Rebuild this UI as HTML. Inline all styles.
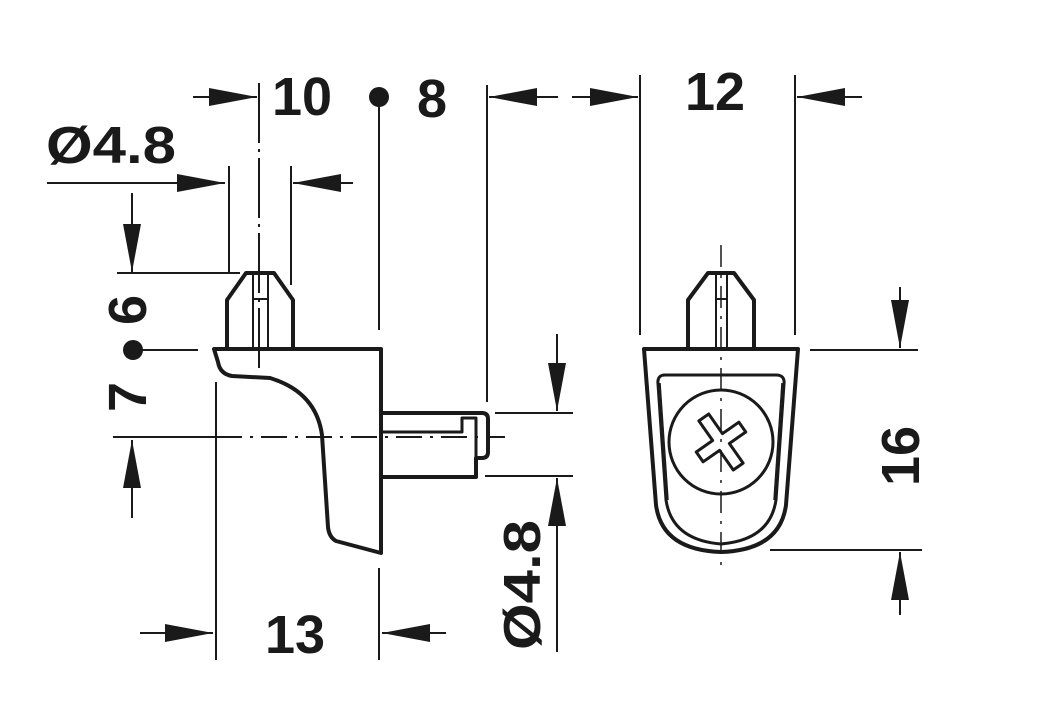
<!DOCTYPE html>
<html><head><meta charset="utf-8"><style>
html,body{margin:0;padding:0;background:#fff;}
svg{display:block;}
text{font-family:"Liberation Sans",sans-serif;font-weight:bold;fill:#1a1a1a;}
</style></head><body>
<svg width="1037" height="713" viewBox="0 0 1037 713" xmlns="http://www.w3.org/2000/svg">
<defs>
<marker id="a" viewBox="0 0 48 18" refX="48" refY="9" markerWidth="48" markerHeight="18" markerUnits="userSpaceOnUse" orient="auto"><path d="M0,0 L48,9 L0,18 Z" fill="#1a1a1a"/></marker>
</defs>
<g stroke="#1a1a1a" stroke-width="2" fill="none">
<!-- top dims -->
<line x1="193" y1="97" x2="257" y2="97" marker-end="url(#a)"/>
<line x1="259" y1="83" x2="259" y2="370" stroke-dasharray="60 6 3 6"/>
<line x1="379" y1="97" x2="379" y2="330"/>
<line x1="379" y1="568" x2="379" y2="660"/>
<line x1="487" y1="85" x2="487" y2="402"/>
<line x1="558" y1="97" x2="489" y2="97" marker-end="url(#a)"/>
<line x1="572" y1="97" x2="638" y2="97" marker-end="url(#a)"/>
<line x1="640" y1="75" x2="640" y2="335"/>
<line x1="795" y1="75" x2="795" y2="335"/>
<line x1="862" y1="97" x2="797" y2="97" marker-end="url(#a)"/>
<line x1="47" y1="183" x2="225" y2="183" marker-end="url(#a)"/>
<line x1="229" y1="166" x2="229" y2="272"/>
<line x1="291" y1="166" x2="291" y2="285"/>
<line x1="353" y1="183" x2="293" y2="183" marker-end="url(#a)"/>
<!-- left dims -->
<line x1="132" y1="193" x2="132" y2="272" marker-end="url(#a)"/>
<line x1="117" y1="273" x2="240" y2="273"/>
<line x1="133" y1="350" x2="198" y2="350"/>
<line x1="113" y1="437" x2="216" y2="437"/>
<line x1="216" y1="437" x2="505" y2="437" stroke-dasharray="26 8 3 8"/>
<line x1="132" y1="518" x2="132" y2="440" marker-end="url(#a)"/>
<line x1="216" y1="382" x2="216" y2="660"/>
<line x1="140" y1="633" x2="213" y2="633" marker-end="url(#a)"/>
<line x1="446" y1="633" x2="382" y2="633" marker-end="url(#a)"/>
<!-- peg dims -->
<line x1="557" y1="334" x2="557" y2="411" marker-end="url(#a)"/>
<line x1="495" y1="413" x2="573" y2="413"/>
<line x1="485" y1="476" x2="573" y2="476"/>
<line x1="557" y1="652" x2="557" y2="478" marker-end="url(#a)"/>
<!-- 16 dims -->
<line x1="810" y1="350" x2="918" y2="350"/>
<line x1="770" y1="550" x2="922" y2="550"/>
<line x1="900" y1="287" x2="900" y2="348" marker-end="url(#a)"/>
<line x1="900" y1="615" x2="900" y2="552" marker-end="url(#a)"/>
</g>
<circle cx="379" cy="97" r="10" fill="#1a1a1a"/>
<circle cx="133" cy="350" r="10" fill="#1a1a1a"/>
<!-- left part -->
<g stroke="#1a1a1a" stroke-width="4" fill="none" stroke-linejoin="round">
<path d="M227,349 L227,300 L246,273 L274,273 L293,300 L293,349"/>
<path d="M253,273 L253,349 M268,273 L268,349 M253,299 L268,299" stroke-width="2"/>
<path d="M214,349 L381,349 L381,553 L336,541 Q329,537 328,527 L322,435 Q316,392 270,378 L232,376 Q220,374 218,362 Z"/>
<path d="M381,413 L482,413 Q488,413 488,419 L488,452 Q488,458 482,458 L476,458 L476,477 L381,477"/>
<path d="M381,432 L462,432 L462,418 L476,418 L476,458" stroke-width="3"/>
</g>
<!-- right part -->
<g stroke="#1a1a1a" fill="none" stroke-linejoin="round">
<path d="M688,348 L688,300 L708,273 L734,273 L754,300 L754,348" stroke-width="4"/>
<path d="M716,273 L716,348 M727,273 L727,348 M716,299 L727,299" stroke-width="2"/>
<path d="M644,349 L798,349 L786,505 Q780,550 721,552 Q662,550 656,505 Z" stroke-width="4"/>
<path d="M665,375 L776,375 Q785,375 784,384 L776,500 Q770,540 721,544 Q672,540 666,500 L658,384 Q657,375 665,375 Z" stroke-width="3"/>
<path d="M660,383 L668,500 M782,383 L774,500" stroke-width="1.5"/>
<circle cx="721" cy="442" r="52" stroke-width="3"/>
<g transform="translate(721,442) rotate(-35)">
<path d="M-6,-30 L6,-30 L6,-6 L26,-6 L26,6 L6,6 L6,30 L-6,30 L-6,6 L-26,6 L-26,-6 L-6,-6 Z" stroke-width="3" fill="#fff"/>
</g>
<line x1="721" y1="245" x2="721" y2="572" stroke-width="1.5" stroke-dasharray="22 8 3 8"/>
</g>
<!-- labels -->
<text x="272" y="115" font-size="54" textLength="60">10</text>
<text x="417" y="117" font-size="54">8</text>
<text x="685" y="110" font-size="54" textLength="60">12</text>
<text x="46" y="163" font-size="52" textLength="130" lengthAdjust="spacingAndGlyphs">Ø4.8</text>
<text x="265" y="653" font-size="54" textLength="60">13</text>
<text transform="translate(146,325) rotate(-90)" font-size="54">6</text>
<text transform="translate(146,412) rotate(-90)" font-size="54">7</text>
<text transform="translate(540,650) rotate(-90)" font-size="52" textLength="130" lengthAdjust="spacingAndGlyphs">Ø4.8</text>
<text transform="translate(919,486) rotate(-90)" font-size="54" textLength="60">16</text>
</svg>
</body></html>
